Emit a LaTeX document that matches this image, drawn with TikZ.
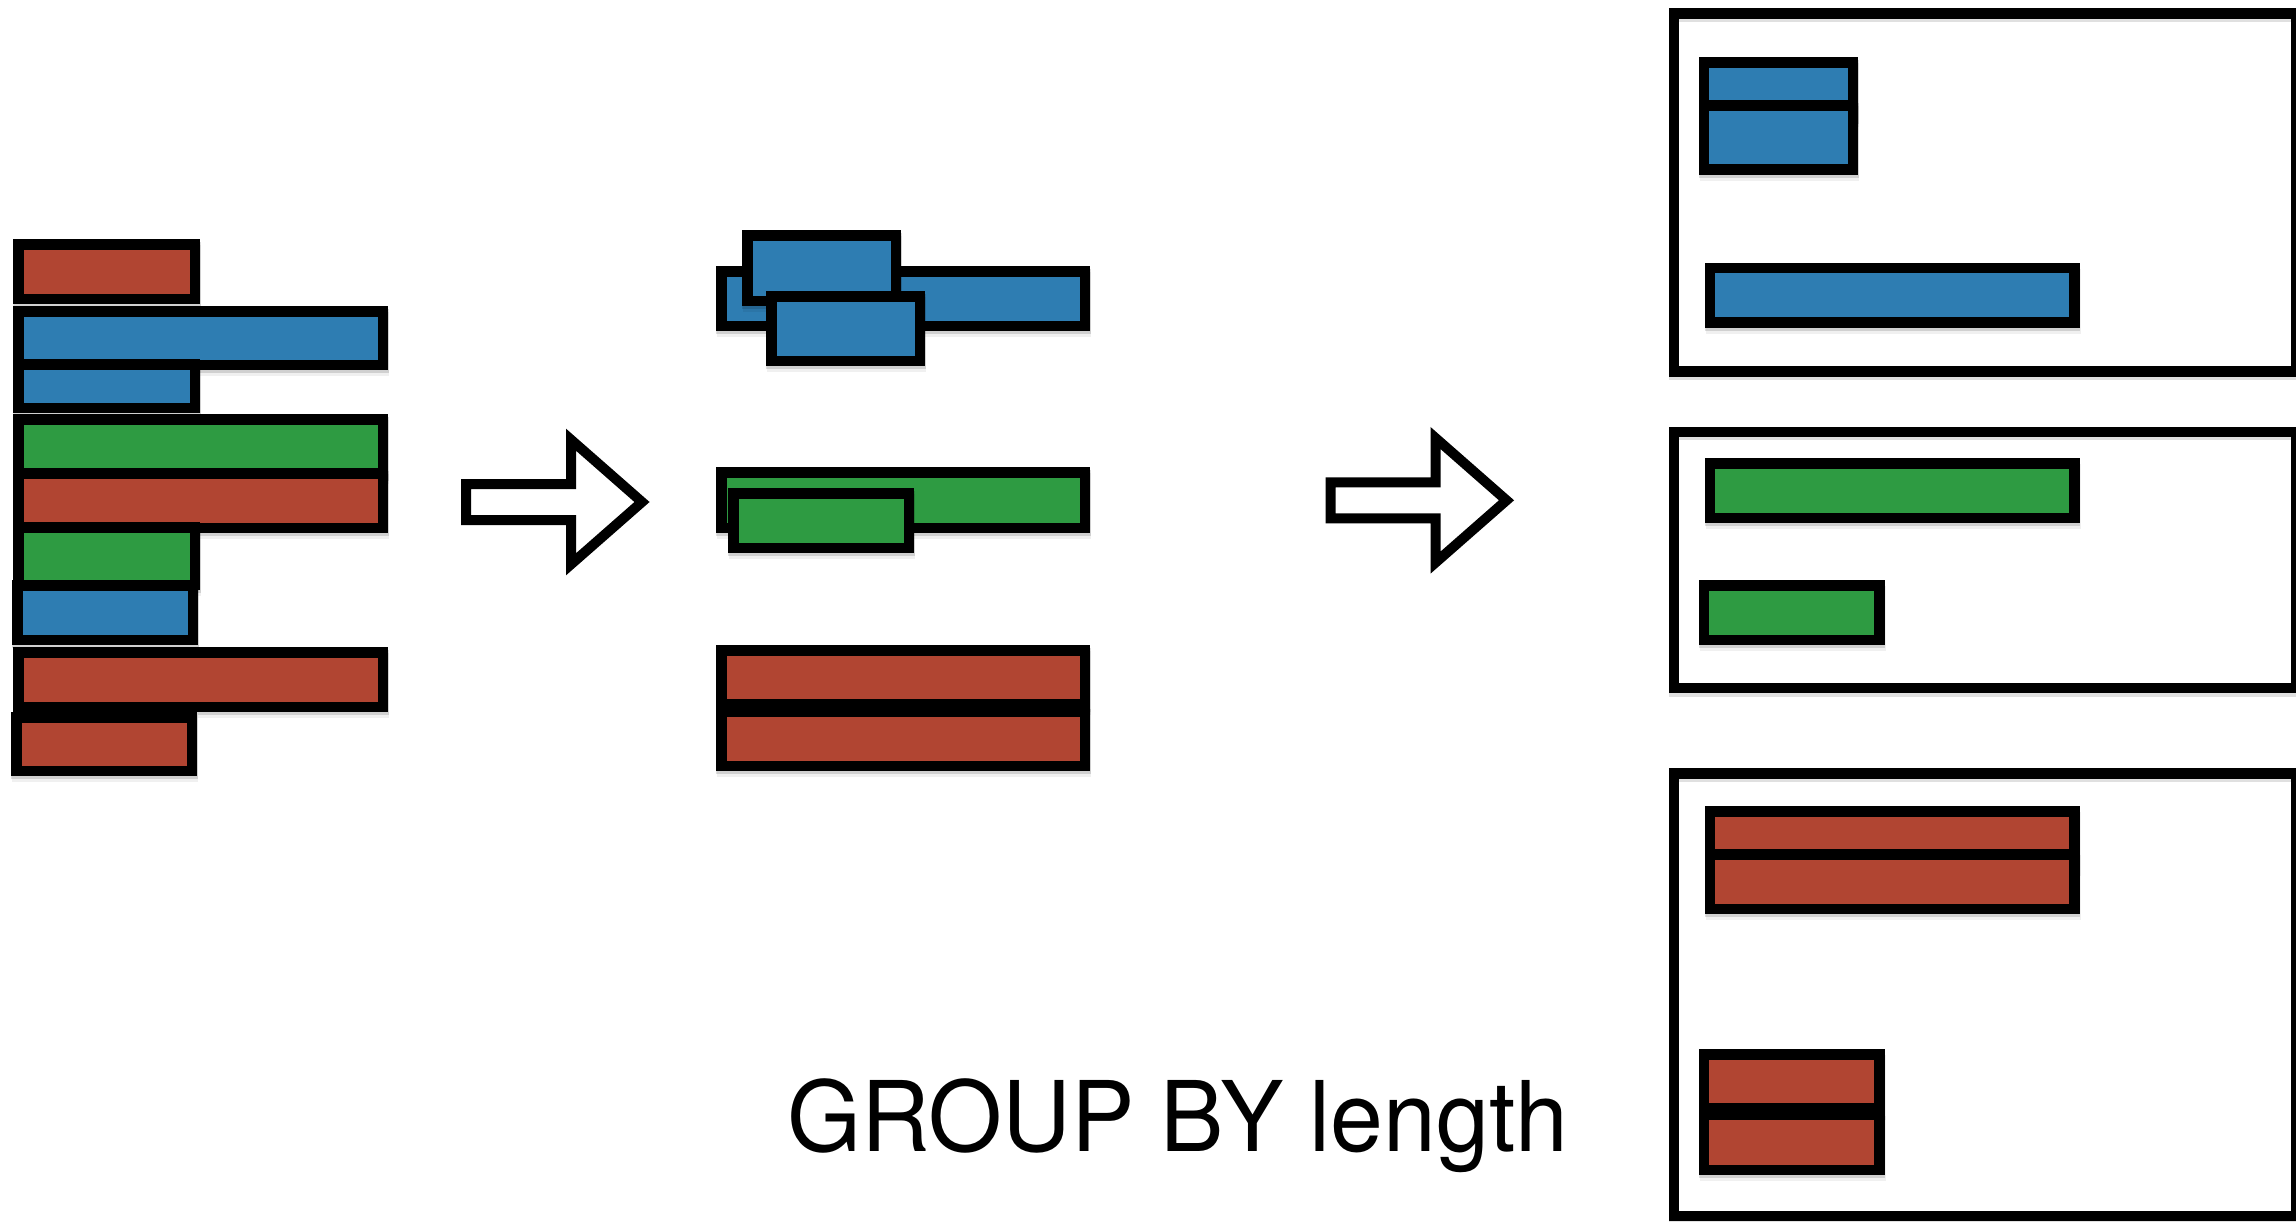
\documentclass[tikz,border=0pt]{standalone}
\usepackage{fontspec}
\setmainfont{TeX Gyre Heros}
\definecolor{barred}{HTML}{B14532}
\definecolor{barblue}{HTML}{2E7DB2}
\definecolor{bargreen}{HTML}{2E9B42}
\tikzset{
  barline/.style={draw=black, line width=10.5pt, line join=miter},
  boxline/.style={draw=black, line width=10.5pt, line join=miter, fill=white},
  shadowA/.style={fill=black, opacity=0.13},
  shadowB/.style={fill=black, opacity=0.06},
  frameshadow/.style={draw=black, line width=10.5pt, opacity=0.12},
  arrowline/.style={draw=black, line width=10pt, line join=miter, fill=white},
  blockarrow/.pic={
    \path[arrowline] (0,-18) -- (105,-18) -- (105,-62.3) -- (176,0)
      -- (105,62.3) -- (105,18) -- (0,18) -- cycle;
  }
}
% outer edges: x1 y1 x2 y2 colour
\newcommand\drawbar[5]{%
  \path[shadowB] ({#1+1},{#2+6}) rectangle ({#3+1},{#4+6});
  \path[shadowA] ({#1},{#2+3}) rectangle ({#3+0.5},{#4+3});
  \path[barline, fill=#5] ({#1+5.25},{#2+5.25}) rectangle ({#3-5.25},{#4-5.25});}
\newcommand\drawbox[4]{%
  \path[boxline] ({#1+5.25},{#2+5.25}) rectangle ({#3-5.25},{#4-5.25});
  \path[frameshadow] ({#1+5.25},{#2+8.5}) rectangle ({#3-5.25},{#4-2});}
\begin{document}
\begin{tikzpicture}[x=1pt,y=-1pt]
\useasboundingbox[fill=white] (0,0) rectangle (2296,1221);

% ---- left column: unsorted rows
\drawbar{13}{239}{200}{304}{barred}
\drawbar{13}{306}{388}{370}{barblue}
\drawbar{13}{359}{200}{413}{barblue}
\drawbar{13}{414}{388}{478}{bargreen}
\drawbar{13}{468}{388}{533}{barred}
\drawbar{13}{522}{200}{590}{bargreen}
\drawbar{12}{580}{198}{645}{barblue}
\drawbar{13}{647}{388}{712}{barred}
\drawbar{11}{712}{197}{776}{barred}

% ---- first arrow
\pic at (466,502) {blockarrow};

% ---- middle column: grouped by colour
\drawbar{716}{266}{1090}{331}{barblue}
\drawbar{742}{230}{901}{306}{barblue}
\drawbar{766}{291}{925}{366}{barblue}
\drawbar{716}{467}{1090}{533}{bargreen}
\drawbar{728}{488}{914}{553}{bargreen}
\drawbar{716}{645}{1090}{709}{barred}
\drawbar{716}{706}{1090}{771}{barred}

% ---- second arrow
\pic at (1330.5,500.3) {blockarrow};

% ---- right column: boxes
\drawbox{1668.5}{8.3}{2301}{376.7}
\drawbar{1698.6}{57.3}{1858}{121}{barblue}
\drawbar{1698.6}{100}{1858}{174.7}{barblue}
\drawbar{1704.8}{262.7}{2079.7}{327.7}{barblue}

\drawbox{1668.5}{426.7}{2301}{693.3}
\drawbar{1704.8}{458.3}{2079.7}{523.3}{bargreen}
\drawbar{1698.6}{580}{1884.9}{645}{bargreen}

\drawbox{1668.5}{768.3}{2301}{1221}
\drawbar{1704.8}{806}{2079.7}{870}{barred}
\drawbar{1704.8}{849}{2079.7}{914.3}{barred}
\drawbar{1698.6}{1049.3}{1884.9}{1113.8}{barred}
\drawbar{1698.6}{1109.5}{1884.9}{1175}{barred}

% ---- caption
\node[anchor=base west, inner sep=0pt, font=\fontsize{97.5}{110}\selectfont] (caption) at (787,1151) {\scalebox{0.975}[1]{GROUP BY length}};
\end{tikzpicture}
\end{document}
